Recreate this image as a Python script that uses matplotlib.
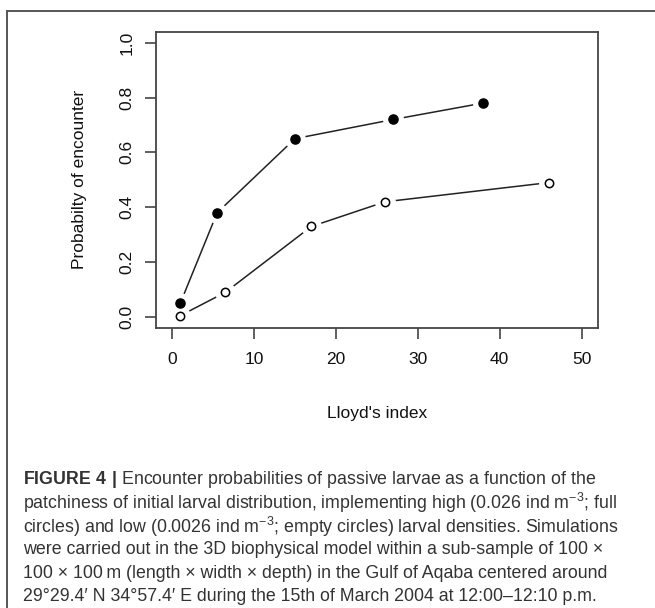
import matplotlib
matplotlib.use("Agg")
import matplotlib.pyplot as plt
from matplotlib.lines import Line2D

plt.rcParams['font.family'] = ['Liberation Sans', 'DejaVu Sans']
plt.rcParams['mathtext.fontset'] = 'custom'
plt.rcParams['mathtext.rm'] = 'Liberation Sans'
plt.rcParams['mathtext.bf'] = 'Liberation Sans:bold'

# data
lloyd_high = [1, 5.5, 15, 27, 38]
p_high = [0.05, 0.38, 0.65, 0.72, 0.78]
lloyd_low = [1, 6.5, 17, 26, 46]
p_low = [0.005, 0.09, 0.33, 0.42, 0.49]

x_ticks = [0, 10, 20, 30, 40, 50]
y_ticks = [0.0, 0.2, 0.4, 0.6, 0.8, 1.0]

caption = [
    r"$\bf{FIGURE\ 4\ |}$ Encounter probabilities of passive larvae as a function of the",
    r"patchiness of initial larval distribution, implementing high (0.026 ind m$^{-3}$; full",
    r"circles) and low (0.0026 ind m$^{-3}$; empty circles) larval densities. Simulations",
    "were carried out in the 3D biophysical model within a sub-sample of 100 \u00d7",
    "100 \u00d7 100\u2009m (length \u00d7 width \u00d7 depth) in the Gulf of Aqaba centered around",
    "29\u00b029.4\u2032 N 34\u00b057.4\u2032 E during the 15th of March 2004 at 12:00\u201312:10 p.m.",
]

fig = plt.figure(figsize=(6.55, 6.08), dpi=100)
ax = fig.add_axes([0.2377, 0.4605, 0.6753, 0.4874])

lc = '#222222'
# lines, then white halos to make R style "b" gaps, then the points
ax.plot(lloyd_high, p_high, color=lc, lw=1.1, zorder=1)
ax.plot(lloyd_low, p_low, color=lc, lw=1.1, zorder=1)
ax.plot(lloyd_high + lloyd_low, p_high + p_low, ls='none', marker='o',
        ms=14, mfc='white', mec='white', zorder=2)
ax.plot(lloyd_high, p_high, ls='none', marker='o', ms=6.6,
        mfc='black', mec='black', zorder=3)
ax.plot(lloyd_low, p_low, ls='none', marker='o', ms=6.0, mew=1.1,
        mfc='white', mec='black', zorder=3)

ax.set_xlim(-2, 52)
ax.set_ylim(-0.04, 1.04)
ax.set_xticks(x_ticks)
ax.set_yticks(y_ticks)
ax.set_xticklabels([str(v) for v in x_ticks])
ax.set_yticklabels(["%.1f" % v for v in y_ticks], rotation=90, va='center')

for s in ax.spines.values():
    s.set_color('#444444')
    s.set_linewidth(1.3)
ax.tick_params(length=8, width=1.2, color='#444444', labelsize=12.5,
               labelcolor='#111111')
ax.tick_params(axis='x', pad=9)
ax.tick_params(axis='y', pad=7)

ax.set_xlabel("Lloyd's index", fontsize=12.5, labelpad=28, color='#111111')
ax.set_ylabel("Probabilty of encounter", fontsize=12.5, labelpad=24,
              color='#111111')

# outer frame (top and left edges visible)
fig.add_artist(Line2D([7 / 655, 1], [1 - 11 / 608] * 2, color='#555555', lw=1.4))
fig.add_artist(Line2D([7 / 655] * 2, [0, 1 - 11 / 608], color='#555555', lw=1.4))

y0 = 480
for i, line in enumerate(caption):
    fig.text(23 / 655, 1 - (y0 + 23.3 * i) / 608, line, fontsize=12.8,
             color='#333333', va='center', ha='left')

fig.savefig("out.png", dpi=100)
